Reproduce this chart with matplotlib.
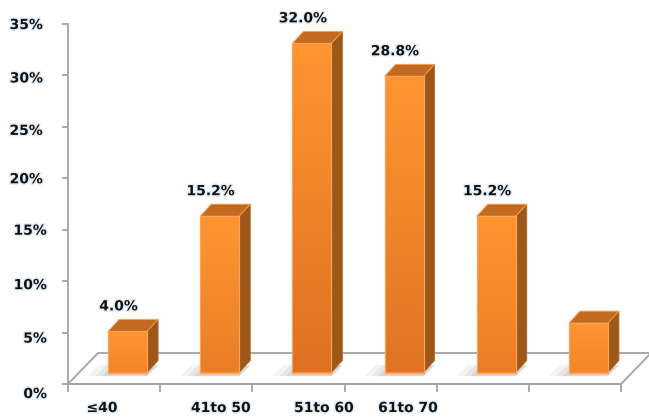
import numpy as np
import matplotlib
matplotlib.use("Agg")
import matplotlib.pyplot as plt
from matplotlib.patches import Polygon
from matplotlib.colors import LinearSegmentedColormap
import matplotlib.patheffects as pe

# ---------------------------------------------------------------------------
# Data
# ---------------------------------------------------------------------------
categories = ["≤40", "41to 50", "51to 60", "61to 70", "", ""]
shares = [4.0, 15.2, 32.0, 28.8, 15.2, 4.8]          # percent
show_label = [True, True, True, True, True, False]
yticks = [0, 5, 10, 15, 20, 25, 30, 35]

# ---------------------------------------------------------------------------
# Layout / style
# ---------------------------------------------------------------------------
W, H = 649, 419
AX_L, AX_R, AX_T, AX_B = 68, 621, 24, 384           # plot box in pixels
PX_X = (AX_R - AX_L) / len(categories)               # px per category
PX_Y = (AX_B - AX_T) / 35.0                          # px per percent

GREY = "#a3a3a3"
TXT = "#111111"
FRONT_TOP = "#ff9530"
SIDE = "#9c5719"
TOP = "#c26b20"
EDGE = "#f9a458"

bar_offset = 0.435           # gap before front face, category units
bar_w = 39 / PX_X
depth_dx = 11 / PX_X
depth_dy = 12 / PX_Y
base = 11.5 / PX_Y           # bars sit a little behind the floor front edge
floor_dx, floor_dy = 30 / PX_X, 31 / PX_Y

cat_label_px = [102, 221, 324, 408, None, None]
ylab_shift_px = [10, 6, 4, 1, 1, 4, 3, 1]
ylab_right_px = [47, 47, 47, 47, 43, 43, 43, 43]

glow = [pe.withStroke(linewidth=2.2, foreground="#e4eef6")]

fig = plt.figure(figsize=(W / 100, H / 100), dpi=100)
fig.patch.set_facecolor("white")
ax = fig.add_axes([AX_L / W, (H - AX_B) / H, (AX_R - AX_L) / W, (AX_B - AX_T) / H])
ax.set_xlim(0, len(categories))
ax.set_ylim(0, 35)
ax.set_facecolor("none")

for s in ("top", "right"):
    ax.spines[s].set_visible(False)
for s in ("left", "bottom"):
    ax.spines[s].set_color(GREY)
    ax.spines[s].set_linewidth(1.3)
    ax.spines[s].set_zorder(1)

ax.set_yticks(yticks)
ax.set_xticks(np.arange(len(categories) + 1))
ax.tick_params(axis="y", length=4.3, width=1.3, color=GREY, labelleft=False)
ax.tick_params(axis="x", length=6, width=1.3, color=GREY, labelbottom=False)

# floor plane
n = len(categories)
floor = Polygon([(0, 0), (n, 0), (n + floor_dx, floor_dy), (floor_dx, floor_dy)],
                closed=True, facecolor="white", edgecolor=GREY, lw=1.3,
                zorder=0.5, clip_on=False)
ax.add_patch(floor)

# 3-D bars: front face (gradient), side and top faces
xs = np.arange(n) + bar_offset
front = ax.bar(xs, shares, width=bar_w, bottom=base, align="edge",
               color=FRONT_TOP, edgecolor=EDGE, lw=0.8, zorder=3, clip_on=False)

for x0, v, rect in zip(xs, shares, front):
    # soft shadow on the floor
    for k, a in zip((0.22, 0.14, 0.07), (0.10, 0.12, 0.16)):
        sh = Polygon([(x0 - k, base - 0.35), (x0 + bar_w, base - 0.35),
                      (x0 + bar_w + depth_dx, base + depth_dy * 0.6),
                      (x0 - k + depth_dx, base + depth_dy * 0.6)],
                     closed=True, facecolor="#8a8a8a", edgecolor="none",
                     alpha=a, zorder=1, clip_on=False)
        ax.add_patch(sh)

    dark = 0.25 + 0.55 * v / max(shares)
    cmap = LinearSegmentedColormap.from_list(
        "f", [(1 - 0.16 * dark, 0.58 - 0.17 * dark, 0.19 - 0.07 * dark),
              (1.0, 0.585, 0.19)])
    grad = np.linspace(0, 1, 64).reshape(-1, 1)
    im = ax.imshow(grad, cmap=cmap, origin="lower", aspect="auto",
                   extent=(x0, x0 + bar_w, base, base + v), zorder=3.1)
    im.set_clip_path(rect)
    ax.add_patch(Polygon([(x0, base), (x0 + bar_w, base), (x0 + bar_w, base + v),
                          (x0, base + v)], closed=True, facecolor="none",
                         edgecolor=EDGE, lw=0.8, zorder=3.2, clip_on=False))

    side = Polygon([(x0 + bar_w, base), (x0 + bar_w + depth_dx, base + depth_dy),
                    (x0 + bar_w + depth_dx, base + v + depth_dy), (x0 + bar_w, base + v)],
                   closed=True, facecolor=SIDE, edgecolor="#b8692a", lw=0.6,
                   zorder=2.9, clip_on=False)
    top = Polygon([(x0, base + v), (x0 + bar_w, base + v),
                   (x0 + bar_w + depth_dx, base + v + depth_dy), (x0 + depth_dx, base + v + depth_dy)],
                  closed=True, facecolor=TOP, edgecolor=EDGE, lw=0.6,
                  zorder=2.9, clip_on=False)
    ax.add_patch(side)
    ax.add_patch(top)

ax.set_xlim(0, n)
ax.set_ylim(0, 35)

# value labels above the bars
for x0, v, show in zip(xs, shares, show_label):
    if show:
        ax.text(x0 + bar_w / 2 - 9 / PX_X, base + v + depth_dy + 13 / PX_Y,
                f"{v:.1f}%", ha="center", va="center", fontsize=10,
                fontweight="bold", color=TXT, path_effects=glow, clip_on=False)

# y tick labels
for t, dy, xr in zip(yticks, ylab_shift_px, ylab_right_px):
    ax.text((xr - AX_L) / PX_X, t - dy / PX_Y, f"{t}%", ha="right", va="center",
            fontsize=10, fontweight="bold", color=TXT, path_effects=glow, clip_on=False)

# category labels
for lab, px in zip(categories, cat_label_px):
    if lab and px is not None:
        ax.text((px - AX_L) / PX_X, -24 / PX_Y, lab, ha="center", va="center",
                fontsize=10, fontweight="bold", color=TXT, path_effects=glow, clip_on=False)

fig.savefig("out.png", dpi=100, facecolor="white")
